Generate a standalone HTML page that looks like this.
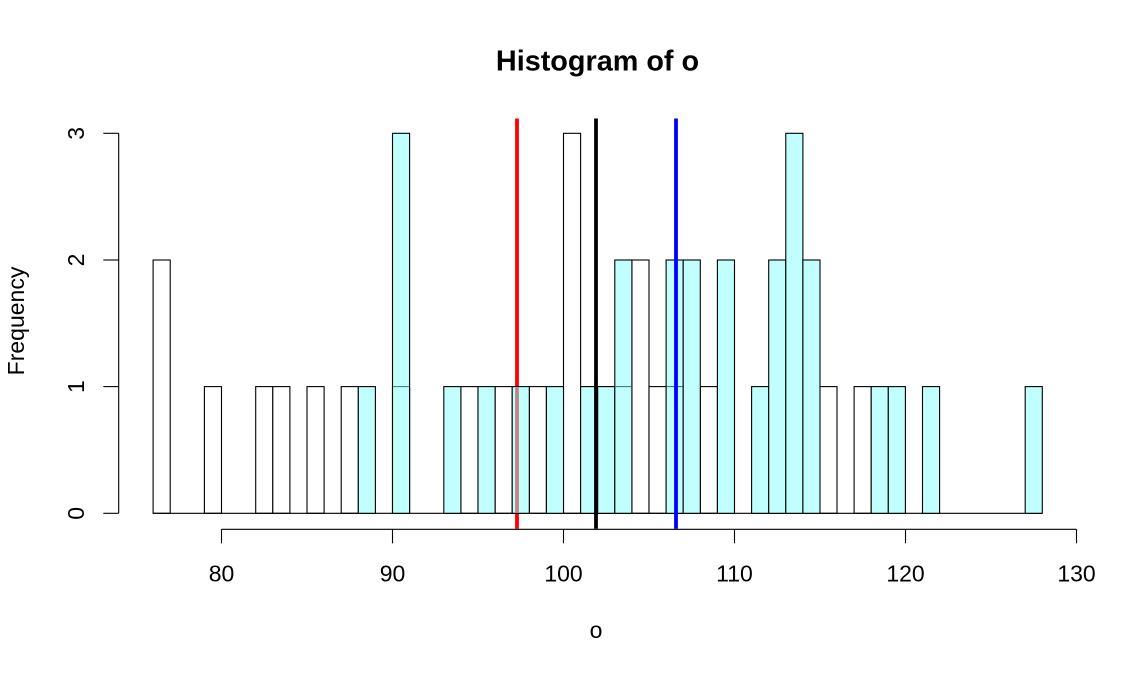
<!DOCTYPE html>
<html>
<head>
<meta charset="utf-8">
<style>
  html, body { margin:0; padding:0; background:#ffffff; }
  svg { display:block; }
  text { font-family: "Liberation Sans", Arial, sans-serif; fill:#000; }
</style>
</head>
<body>
<svg width="1138" height="676" viewBox="0 0 1138 676" xmlns="http://www.w3.org/2000/svg">
  <rect x="0" y="0" width="1138" height="676" fill="#ffffff"/>

  <!-- Title -->
  <text x="597.5" y="70.5" font-size="28.8" font-weight="bold" text-anchor="middle">Histogram of o</text>

  <!-- White histogram bars -->
  <g fill="#ffffff" stroke="#000" stroke-width="1.1">
    <rect x="153.1" y="260.0" width="17.1" height="253.3"/>
    <rect x="204.4" y="386.6" width="17.1" height="126.7"/>
    <rect x="255.7" y="386.6" width="17.1" height="126.7"/>
    <rect x="272.8" y="386.6" width="17.1" height="126.7"/>
    <rect x="307.0" y="386.6" width="17.1" height="126.7"/>
    <rect x="341.2" y="386.6" width="17.1" height="126.7"/>
    <rect x="392.5" y="386.6" width="17.1" height="126.7"/>
    <rect x="460.9" y="386.6" width="17.1" height="126.7"/>
    <rect x="495.1" y="386.6" width="17.1" height="126.7"/>
    <rect x="529.3" y="386.6" width="17.1" height="126.7"/>
    <rect x="563.5" y="133.3" width="17.1" height="380.0"/>
    <rect x="580.6" y="386.6" width="17.1" height="126.7"/>
    <rect x="597.7" y="386.6" width="17.1" height="126.7"/>
    <rect x="614.8" y="386.6" width="17.1" height="126.7"/>
    <rect x="631.9" y="260.0" width="17.1" height="253.3"/>
    <rect x="649.0" y="386.6" width="17.1" height="126.7"/>
    <rect x="666.1" y="386.6" width="17.1" height="126.7"/>
    <rect x="700.3" y="386.6" width="17.1" height="126.7"/>
    <rect x="819.9" y="386.6" width="17.1" height="126.7"/>
    <rect x="854.1" y="386.6" width="17.1" height="126.7"/>
  </g>

  <!-- baseline -->
  <line x1="153.1" y1="513.3" x2="1042.3" y2="513.3" stroke="#000" stroke-width="1.1"/>

  <!-- red line -->
  <line x1="517" y1="118.5" x2="517" y2="528.8" stroke="#ff0000" stroke-width="3.8"/>

  <!-- Cyan histogram bars -->
  <g fill="#c1ffff" stroke="#000" stroke-width="1.1">
    <rect x="358.3" y="386.6" width="17.1" height="126.7"/>
    <rect x="392.5" y="133.3" width="17.1" height="380.0"/>
    <rect x="443.8" y="386.6" width="17.1" height="126.7"/>
    <rect x="478.0" y="386.6" width="17.1" height="126.7"/>
    <rect x="512.2" y="386.6" width="17.1" height="126.7"/>
    <rect x="546.4" y="386.6" width="17.1" height="126.7"/>
    <rect x="580.6" y="386.6" width="17.1" height="126.7"/>
    <rect x="597.7" y="386.6" width="17.1" height="126.7"/>
    <rect x="614.8" y="260.0" width="17.1" height="253.3"/>
    <rect x="666.1" y="260.0" width="17.1" height="253.3"/>
    <rect x="683.2" y="260.0" width="17.1" height="253.3"/>
    <rect x="717.4" y="260.0" width="17.1" height="253.3"/>
    <rect x="751.6" y="386.6" width="17.1" height="126.7"/>
    <rect x="768.7" y="260.0" width="17.1" height="253.3"/>
    <rect x="785.8" y="133.3" width="17.1" height="380.0"/>
    <rect x="802.9" y="260.0" width="17.1" height="253.3"/>
    <rect x="871.2" y="386.6" width="17.1" height="126.7"/>
    <rect x="888.3" y="386.6" width="17.1" height="126.7"/>
    <rect x="922.5" y="386.6" width="17.1" height="126.7"/>
    <rect x="1025.2" y="386.6" width="17.1" height="126.7"/>
  </g>

  <!-- white-histogram tops seen through translucent cyan -->
  <g stroke="#3f7f7f" stroke-width="1.1">
    <line x1="393.1" y1="386.6" x2="409.0" y2="386.6"/>
    <line x1="615.4" y1="386.6" x2="631.3" y2="386.6"/>
    <line x1="666.7" y1="386.6" x2="682.6" y2="386.6"/>
  </g>

  <!-- red line seen through cyan bar -->
  <line x1="517" y1="387.2" x2="517" y2="512.7" stroke="#bf8585" stroke-width="3.8"/>

  <!-- black and blue lines -->
  <line x1="596" y1="118.5" x2="596" y2="528.8" stroke="#000000" stroke-width="3.8"/>
  <line x1="676" y1="118.5" x2="676" y2="528.8" stroke="#0000ff" stroke-width="3.8"/>

  <!-- X axis -->
  <g stroke="#000" stroke-width="1.1">
    <line x1="221.5" y1="529.3" x2="1076.5" y2="529.3"/>
    <line x1="221.5" y1="529.3" x2="221.5" y2="543.3"/>
    <line x1="392.5" y1="529.3" x2="392.5" y2="543.3"/>
    <line x1="563.5" y1="529.3" x2="563.5" y2="543.3"/>
    <line x1="734.5" y1="529.3" x2="734.5" y2="543.3"/>
    <line x1="905.5" y1="529.3" x2="905.5" y2="543.3"/>
    <line x1="1076.5" y1="529.3" x2="1076.5" y2="543.3"/>
  </g>
  <g font-size="23" text-anchor="middle">
    <text x="221.5" y="581.3">80</text>
    <text x="392.5" y="581.3">90</text>
    <text x="563.5" y="581.3">100</text>
    <text x="734.5" y="581.3">110</text>
    <text x="905.5" y="581.3">120</text>
    <text x="1076.5" y="581.3">130</text>
  </g>
  <text x="596" y="638" font-size="23" text-anchor="middle">o</text>

  <!-- Y axis -->
  <g stroke="#000" stroke-width="1.1">
    <line x1="118.7" y1="133.3" x2="118.7" y2="513.3"/>
    <line x1="103.3" y1="513.3" x2="118.7" y2="513.3"/>
    <line x1="103.3" y1="386.6" x2="118.7" y2="386.6"/>
    <line x1="103.3" y1="260.0" x2="118.7" y2="260.0"/>
    <line x1="103.3" y1="133.3" x2="118.7" y2="133.3"/>
  </g>
  <g font-size="23" text-anchor="middle">
    <text transform="translate(84,513.3) rotate(-90)">0</text>
    <text transform="translate(84,386.6) rotate(-90)">1</text>
    <text transform="translate(84,260.0) rotate(-90)">2</text>
    <text transform="translate(84,133.3) rotate(-90)">3</text>
  </g>
  <text transform="translate(24,321) rotate(-90)" font-size="23" text-anchor="middle">Frequency</text>
</svg>
</body>
</html>
